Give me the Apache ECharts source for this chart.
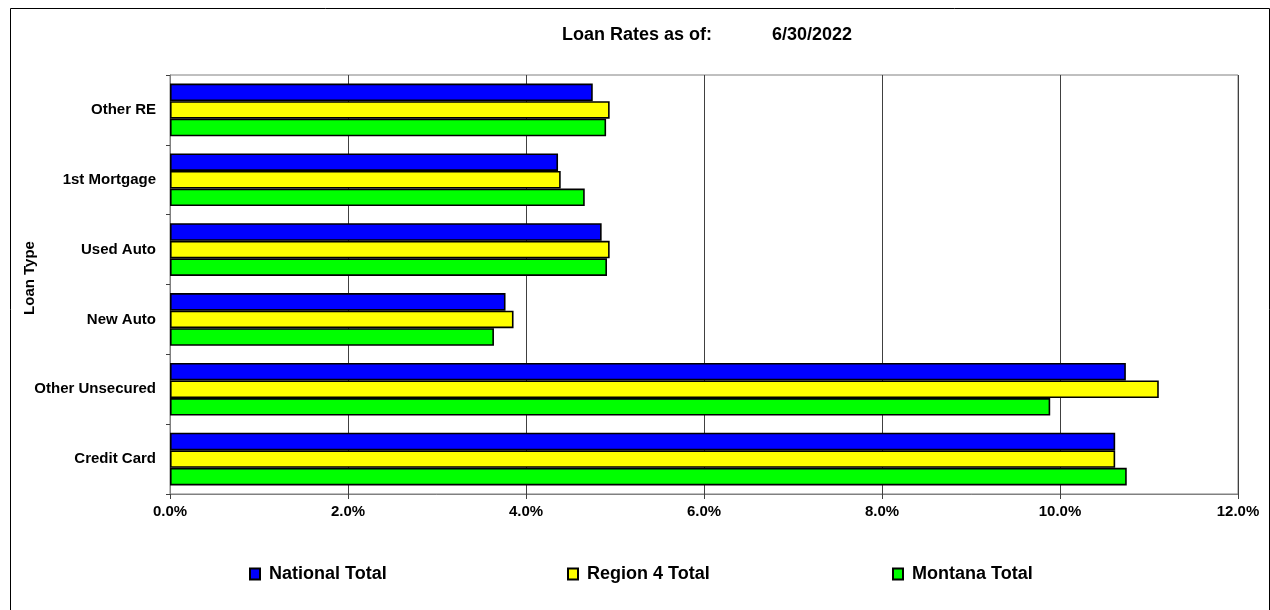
<!DOCTYPE html>
<html>
<head>
<meta charset="utf-8">
<script src="https://cdn.jsdelivr.net/npm/echarts@6/dist/echarts.min.js"></script>
<style>
  html, body { margin: 0; padding: 0; background: #fff; }
  #chart { width: 1270px; height: 610px; }
</style>
</head>
<body>
<div id="chart"></div>
<script>
// Loan types, listed bottom to top on the category axis
const loanTypes = ['Credit Card', 'Other Unsecured', 'New Auto', 'Used Auto', '1st Mortgage', 'Other RE'];

// Average loan rates (%) as of 6/30/2022
const nationalTotal = [10.62, 10.74, 3.77, 4.85, 4.36, 4.75];
const region4Total  = [10.62, 11.11, 3.86, 4.94, 4.39, 4.94];
const montanaTotal  = [10.75,  9.89, 3.64, 4.91, 4.66, 4.90];

const rateTicks = [0, 2, 4, 6, 8, 10, 12];

const FONT = 'Liberation Sans, Arial, sans-serif';

const chart = echarts.init(document.getElementById('chart'), null, { renderer: 'canvas' });

function barSeries(name, data, color) {
  return {
    name: name,
    type: 'bar',
    data: data,
    barGap: '0%',
    barCategoryGap: '24.5%',
    itemStyle: { color: color, borderColor: '#000', borderWidth: 1.6 },
    emphasis: { disabled: true },
    animation: false
  };
}

function legendFor(name, left) {
  return {
    data: [name],
    left: left,
    top: 560,
    itemWidth: 10,
    itemHeight: 11,
    icon: 'rect',
    selectedMode: false,
    textStyle: { fontFamily: FONT, fontSize: 18, fontWeight: 'bold', color: '#000', padding: [0, 0, 0, 4] }
  };
}

chart.setOption({
  backgroundColor: '#fff',
  animation: false,
  graphic: [
    {
      type: 'rect',
      shape: { x: 10.5, y: 8.5, width: 1259, height: 700 },
      style: { fill: 'none', stroke: '#000', lineWidth: 1 },
      silent: true, z: -1
    },
    {
      type: 'text',
      x: 562, y: 35,
      style: { text: 'Loan Rates as of:', font: 'bold 18px ' + FONT, fill: '#000', textVerticalAlign: 'middle' }
    },
    {
      type: 'text',
      x: 772, y: 35,
      style: { text: '6/30/2022', font: 'bold 18px ' + FONT, fill: '#000', textVerticalAlign: 'middle' }
    },
    {
      type: 'text',
      x: 30, y: 278,
      rotation: Math.PI / 2,
      style: { text: 'Loan Type', font: 'bold 15px ' + FONT, fill: '#000', textAlign: 'center', textVerticalAlign: 'middle' }
    }
  ],
  grid: {
    left: 170, right: 32, top: 75, bottom: 116,
    show: true, borderColor: '#808080', borderWidth: 1, backgroundColor: 'transparent'
  },
  legend: [
    legendFor('National Total', 244),
    legendFor('Region 4 Total', 562),
    legendFor('Montana Total', 887)
  ],
  xAxis: {
    type: 'value',
    min: rateTicks[0],
    max: rateTicks[rateTicks.length - 1],
    interval: rateTicks[1] - rateTicks[0],
    axisLine: { show: true, lineStyle: { color: '#808080', width: 1 } },
    axisTick: { show: true, length: 5, lineStyle: { color: '#404040' } },
    splitLine: { show: true, lineStyle: { color: '#404040', width: 1 } },
    axisLabel: {
      margin: 10,
      fontFamily: FONT, fontSize: 15, fontWeight: 'bold', color: '#000',
      formatter: v => v.toFixed(1) + '%'
    }
  },
  yAxis: {
    type: 'category',
    data: loanTypes,
    axisLine: { show: true, lineStyle: { color: '#808080', width: 1 } },
    axisTick: { show: true, length: 4, lineStyle: { color: '#404040' } },
    splitLine: { show: false },
    axisLabel: { margin: 14, fontFamily: FONT, fontSize: 15, fontWeight: 'bold', color: '#000' }
  },
  // First series sits at the top of each group: National, then Region 4, then Montana
  series: [
    barSeries('National Total', nationalTotal, '#0000ff'),
    barSeries('Region 4 Total', region4Total, '#ffff00'),
    barSeries('Montana Total', montanaTotal, '#00ff00')
  ]
});
</script>
</body>
</html>
